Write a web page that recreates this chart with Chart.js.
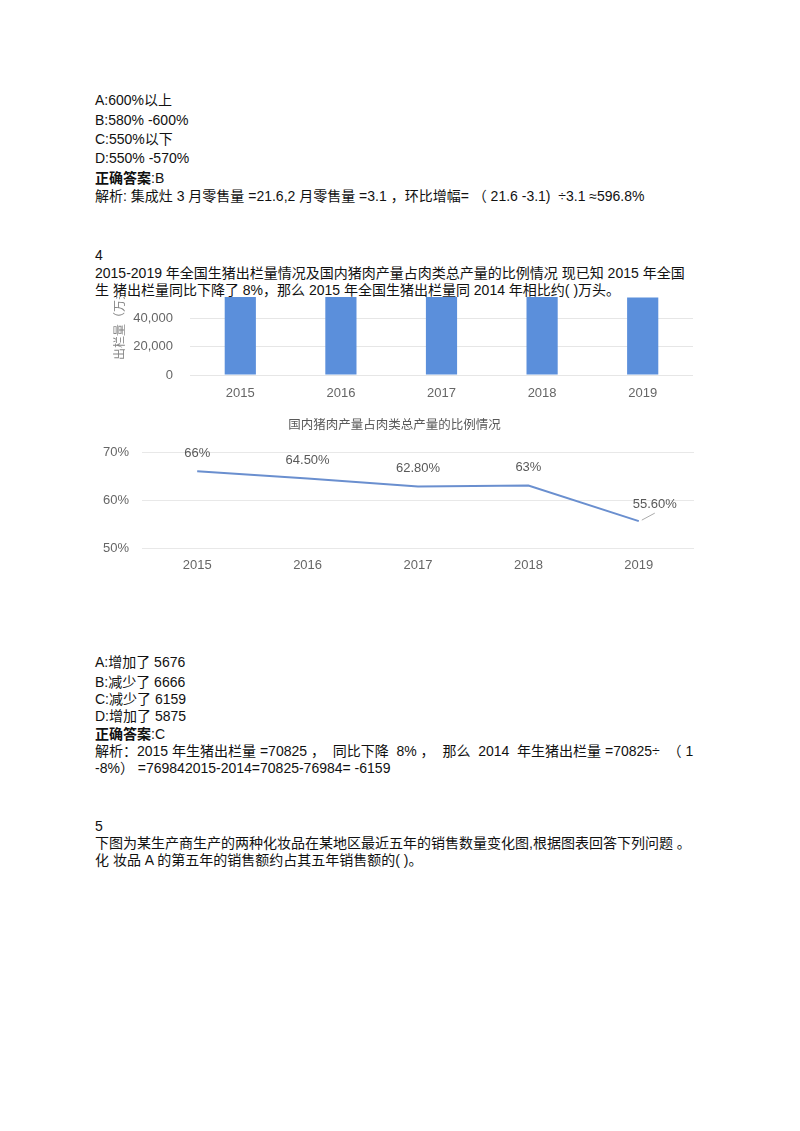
<!DOCTYPE html>
<html>
<head>
<meta charset="utf-8">
<script src="https://cdn.jsdelivr.net/npm/chart.js@4/dist/chart.umd.min.js"></script>
<style>
  body { margin: 0; background: #fff; width: 800px; height: 1131px; position: relative; overflow: hidden;
         font-family: "Liberation Sans", Arial, "Noto Sans CJK SC", sans-serif; font-size: 14px; color: #111; }
  .ln { position: absolute; left: 95px; height: 16px; line-height: 16px; white-space: pre; }
  .ln b { font-weight: bold; }
  #barClip { position: absolute; left: 95px; top: 297px; width: 615px; height: 118px; overflow: hidden; }
  #barBox { position: absolute; left: 0; top: -62px; width: 615px; height: 180px; }
  #lineBox { position: absolute; left: 95px; top: 410px; width: 615px; height: 180px; }
</style>
</head>
<body>
<div class="ln" style="top:92px">A:600%以上</div>
<div class="ln" style="top:112px">B:580% -600%</div>
<div class="ln" style="top:131px">C:550%以下</div>
<div class="ln" style="top:150px">D:550% -570%</div>
<div class="ln" style="top:170px"><b>正确答案</b>:B</div>
<div class="ln" style="top:188px">解析: 集成灶 3 月零售量 =21.6,2 月零售量 =3.1 ，环比增幅= （ 21.6 -3.1)  ÷3.1 ≈596.8%</div>

<div class="ln" style="top:247px">4</div>
<div class="ln" style="top:265px">2015-2019 年全国生猪出栏量情况及国内猪肉产量占肉类总产量的比例情况 现已知 2015 年全国</div>
<div class="ln" style="top:282px">生 猪出栏量同比下降了 8%，那么 2015 年全国生猪出栏量同 2014 年相比约( )万头。</div>

<div id="barClip"><div id="barBox"><canvas id="barChart"></canvas></div></div>
<div id="lineBox"><canvas id="lineChart"></canvas></div>

<div class="ln" style="top:654px">A:增加了 5676</div>
<div class="ln" style="top:674px">B:减少了 6666</div>
<div class="ln" style="top:691px">C:减少了 6159</div>
<div class="ln" style="top:708px">D:增加了 5875</div>
<div class="ln" style="top:726px"><b>正确答案</b>:C</div>
<div class="ln" style="top:743px">解析：2015 年生猪出栏量 =70825 ，  同比下降  8% ，  那么  2014  年生猪出栏量 =70825÷  （ 1</div>
<div class="ln" style="top:760px">-8%） =769842015-2014=70825-76984= -6159</div>

<div class="ln" style="top:818px">5</div>
<div class="ln" style="top:835px">下图为某生产商生产的两种化妆品在某地区最近五年的销售数量变化图,根据图表回答下列问题 。</div>
<div class="ln" style="top:852px">化 妆品 A 的第五年的销售额约占其五年销售额的( )。</div>

<script>
// data
const years = ['2015', '2016', '2017', '2018', '2019'];
const hogOutput = [70825, 68502, 70202, 69382, 54419]; // 万头, bars run off the top in the picture
const porkShare = [66, 64.5, 62.8, 63, 55.6];
const porkShareLabels = ['66%', '64.50%', '62.80%', '63%', '55.60%'];
const lineTitle = '国内猪肉产量占肉类总产量的比例情况';

const grey = '#666666';
const fontFam = '"Liberation Sans", Arial, "Noto Sans CJK SC", sans-serif';

// bar chart of hog output (top part is cut off by the page)
new Chart(document.getElementById('barChart'), {
    type: 'bar',
    data: {
        labels: years,
        datasets: [{
            data: hogOutput,
            backgroundColor: '#5b8fdb',
            barPercentage: 0.31,
            categoryPercentage: 1
        }]
    },
    options: {
        responsive: true,
        maintainAspectRatio: false,
        animation: false,
        layout: { padding: { top: 26, bottom: 5, left: 14, right: 17 } },
        plugins: { legend: { display: false }, tooltip: { enabled: false } },
        scales: {
            x: {
                afterFit: (s) => { s.height = 35; },
                grid: { display: false, drawTicks: false },
                border: { display: false },
                ticks: { color: grey, padding: 11, font: { family: fontFam, size: 13 } }
            },
            y: {
                min: 0,
                max: 80000,
                afterFit: (s) => { s.width = 81; },
                grid: { color: '#e6e6e6', drawTicks: false },
                border: { display: false },
                ticks: {
                    stepSize: 20000,
                    color: grey,
                    padding: 17,
                    font: { family: fontFam, size: 13 },
                    callback: (v) => v.toLocaleString('en-US')
                },
                title: { display: true, text: '出栏量（万头）', color: '#888', font: { family: fontFam, size: 12 } }
            }
        }
    }
});

// draws the % labels above each point
const pointLabels = {
    id: 'pointLabels',
    afterDatasetsDraw(chart) {
        const c = chart.ctx;
        const pts = chart.getDatasetMeta(0).data;
        c.save();
        c.font = '13px ' + fontFam;
        c.fillStyle = '#595959';
        c.textAlign = 'center';
        c.textBaseline = 'middle';
        pts.forEach((p, i) => {
            if (i === pts.length - 1) {
                c.strokeStyle = '#aaaaaa';
                c.lineWidth = 1;
                c.beginPath();
                c.moveTo(p.x + 3, p.y - 1);
                c.lineTo(p.x + 16, p.y - 8);
                c.stroke();
                c.fillText(porkShareLabels[i], p.x + 16, p.y - 17);
            } else {
                c.fillText(porkShareLabels[i], p.x, p.y - 18);
            }
        });
        c.restore();
    }
};

new Chart(document.getElementById('lineChart'), {
    type: 'line',
    data: {
        labels: years,
        datasets: [{
            data: porkShare,
            borderColor: '#6a8fcf',
            borderWidth: 2,
            pointRadius: 0,
            tension: 0
        }]
    },
    options: {
        responsive: true,
        maintainAspectRatio: false,
        animation: false,
        layout: { padding: { top: 0, bottom: 12, left: 0, right: 16 } },
        plugins: {
            legend: { display: false },
            tooltip: { enabled: false },
            title: {
                display: true,
                text: lineTitle,
                color: '#595959',
                font: { family: fontFam, size: 12.5, weight: 'normal' },
                padding: { top: 8, bottom: 19 }
            }
        },
        scales: {
            x: {
                offset: true,
                afterFit: (s) => { s.height = 30; },
                grid: { display: false, drawTicks: false },
                border: { display: false },
                ticks: { color: grey, padding: 10, font: { family: fontFam, size: 13 } }
            },
            y: {
                min: 50,
                max: 70,
                afterFit: (s) => { s.width = 47; },
                grid: { color: '#e8e8e8', drawTicks: false },
                border: { display: false },
                ticks: {
                    stepSize: 10,
                    color: grey,
                    padding: 13,
                    font: { family: fontFam, size: 13 },
                    callback: (v) => v + '%'
                }
            }
        }
    },
    plugins: [pointLabels]
});
</script>
</body>
</html>
